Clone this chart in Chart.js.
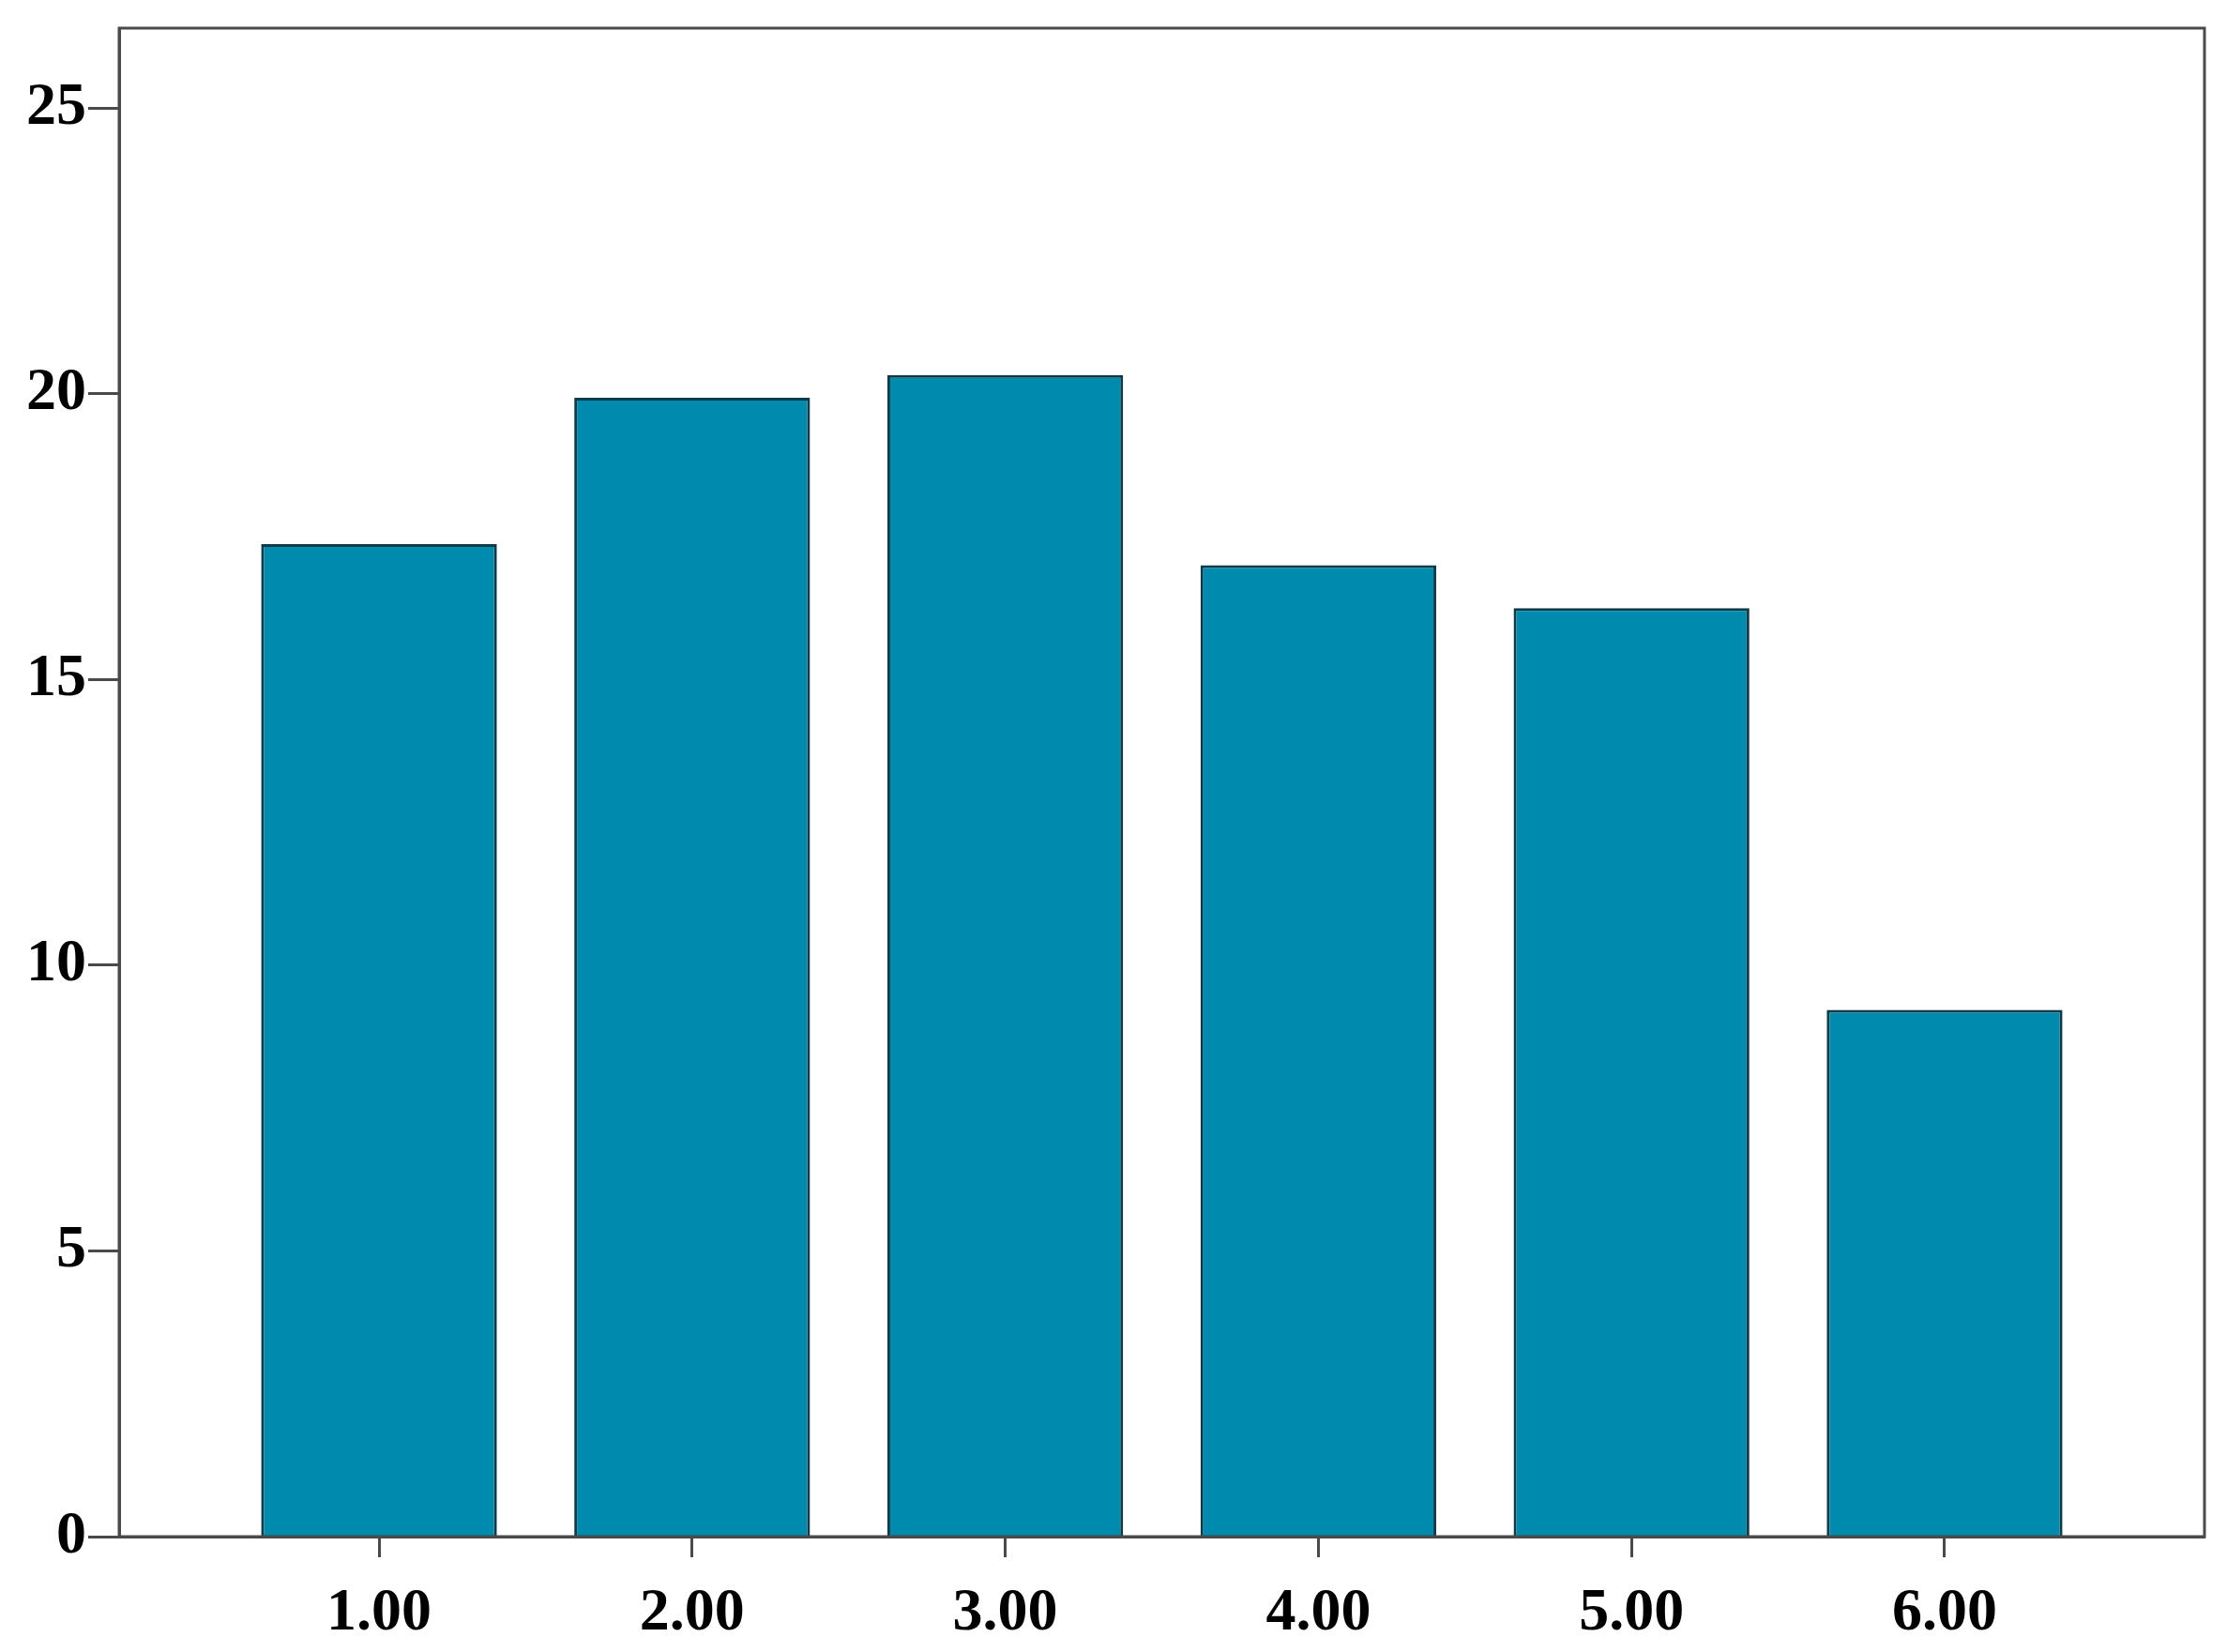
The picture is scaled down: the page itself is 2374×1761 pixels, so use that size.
<!DOCTYPE html>
<html>
<head>
<meta charset="utf-8">
<script src="https://cdn.jsdelivr.net/npm/chart.js@4/dist/chart.umd.min.js"></script>
<style>
  html, body { margin: 0; padding: 0; background: #fff; }
  #wrap { width: 2374px; height: 1761px; }
</style>
</head>
<body>
<div id="wrap"><canvas id="chart"></canvas></div>
<script>
const categories = [1, 2, 3, 4, 5, 6];
const values = [17.37, 19.93, 20.33, 17.0, 16.25, 9.22];
const yTicks = [0, 5, 10, 15, 20, 25];

const axisColor = "#4a4a4a";
const tickFont = { family: "'Liberation Serif', 'Times New Roman', serif", size: 64, weight: "bold" };

// draws the top and right sides of the frame
const framePlugin = {
  id: "frame",
  afterDraw(chart) {
    const { ctx, chartArea } = chart;
    ctx.save();
    ctx.strokeStyle = axisColor;
    ctx.lineWidth = 3;
    ctx.strokeRect(chartArea.left, chartArea.top, chartArea.right - chartArea.left, chartArea.bottom - chartArea.top);
    ctx.restore();
  },
};

new Chart(document.getElementById("chart").getContext("2d"), {
  type: "bar",
  data: {
    datasets: [
      {
        data: categories.map((c, i) => ({ x: c, y: values[i] })),
        backgroundColor: "#008aad",
        borderColor: "#0f3a47",
        borderWidth: 3,
        barPercentage: 0.753,
        categoryPercentage: 1,
      },
    ],
  },
  options: {
    responsive: true,
    maintainAspectRatio: false,
    animation: false,
    layout: { padding: { top: 30, right: 24, left: 0, bottom: 0 } },
    plugins: {
      legend: { display: false },
      tooltip: { enabled: false },
    },
    scales: {
      x: {
        type: "linear",
        min: 0.17,
        max: 6.83,
        offset: false,
        afterBuildTicks: (scale) => {
          scale.ticks = categories.map((v) => ({ value: v }));
        },
        afterFit: (scale) => {
          scale.height = 123;
        },
        grid: {
          offset: false,
          drawOnChartArea: false,
          drawTicks: true,
          tickLength: 22,
          tickWidth: 3,
          tickColor: axisColor,
        },
        border: { color: axisColor, width: 3 },
        ticks: {
          color: "#000",
          font: tickFont,
          padding: 22,
          maxRotation: 0,
          callback: (v) => Number(v).toFixed(2),
        },
      },
      y: {
        min: 0,
        max: 26.4,
        afterBuildTicks: (scale) => {
          scale.ticks = yTicks.map((v) => ({ value: v }));
        },
        afterFit: (scale) => {
          scale.width = 127;
          scale.paddingTop = 0;
          scale.paddingBottom = 0;
        },
        grid: {
          drawOnChartArea: false,
          drawTicks: true,
          tickLength: 33,
          tickWidth: 3,
          tickColor: axisColor,
        },
        border: { color: axisColor, width: 3 },
        ticks: {
          color: "#000",
          font: tickFont,
          padding: 2,
        },
      },
    },
  },
  plugins: [framePlugin],
});
</script>
</body>
</html>
